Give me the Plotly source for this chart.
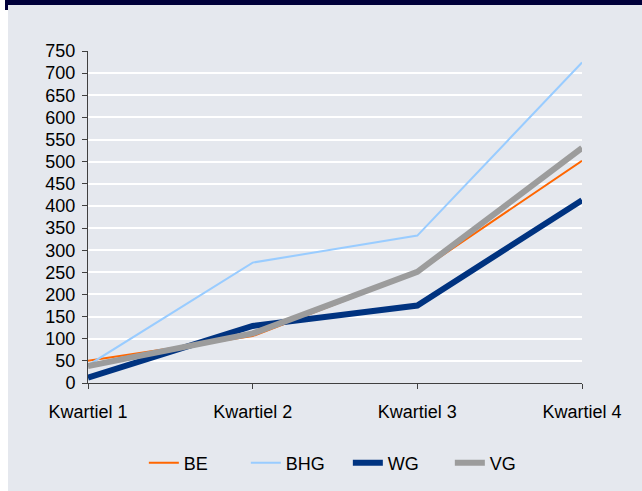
import plotly.graph_objects as go

categories = ["Kwartiel 1", "Kwartiel 2", "Kwartiel 3", "Kwartiel 4"]
be = [50, 106, 250, 502]
bhg = [40, 272, 333, 724]
wg = [12, 129, 175, 413]
vg = [38, 112, 251, 531]

W, H = 642, 491
L, R, T, B = 88, 60, 51, 108
PW, PH = W - L - R, H - T - B

def px(x):
    return (x - L) / PW

def py(y):
    return (H - B - y) / PH

fig = go.Figure()
series = [
    ("BE", be, "#ff6600", 2),
    ("BHG", bhg, "#99ccff", 2),
    ("WG", wg, "#003380", 6),
    ("VG", vg, "#9c9c9c", 6),
]
for name, vals, col, w in series:
    fig.add_trace(go.Scatter(x=categories, y=vals, name=name, mode="lines",
                             line=dict(color=col, width=w)))

shapes = [
    dict(type="rect", xref="paper", yref="paper", layer="below",
         x0=px(8), x1=px(642), y0=py(4), y1=py(491),
         fillcolor="#e5e8ee", line=dict(width=0)),
    dict(type="rect", xref="paper", yref="paper", layer="below",
         x0=px(5), x1=px(642), y0=py(0), y1=py(5),
         fillcolor="#00003a", line=dict(width=0)),
    dict(type="rect", xref="paper", yref="paper", layer="below",
         x0=px(5), x1=px(8), y0=py(4), y1=py(10),
         fillcolor="#00003a", line=dict(width=0)),
]

fig.update_layout(
    width=W, height=H,
    margin=dict(l=L, r=R, t=T, b=B, autoexpand=False),
    paper_bgcolor="white",
    plot_bgcolor="#e5e8ee",
    font=dict(family="Liberation Sans, Arial", size=18, color="#000000"),
    shapes=shapes,
    showlegend=True,
    legend=dict(orientation="h", x=0.526, xanchor="center", y=py(463), yanchor="middle",
                font=dict(size=18), bgcolor="rgba(0,0,0,0)",
                entrywidth=57, entrywidthmode="pixels"),
    xaxis=dict(type="category", range=[0, 3], showgrid=False, showline=True,
               linecolor="#404040", linewidth=1, ticks="outside", ticklen=5,
               tickcolor="#404040", tickfont=dict(size=18), zeroline=False,
               ticklabelstandoff=7),
    yaxis=dict(range=[0, 750], dtick=50, tick0=0, showgrid=True, gridcolor="white",
               gridwidth=2, showline=True, linecolor="#404040", linewidth=1,
               ticks="outside", ticklen=5, tickcolor="#404040", zeroline=False,
               tickfont=dict(size=18), ticklabelstandoff=3),
)

fig.write_html("out.html", config={"displayModeBar": False},
               post_script="document.body.style.margin='0';")
